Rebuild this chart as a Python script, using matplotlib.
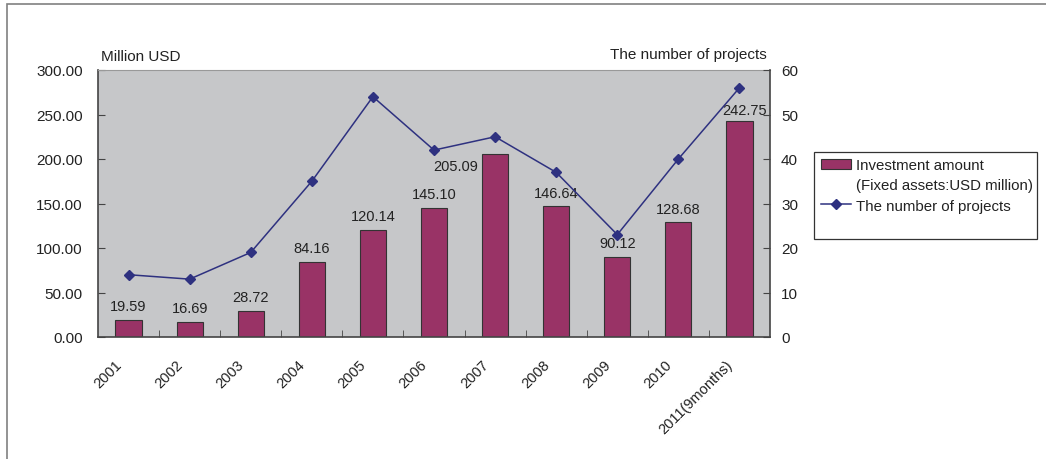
import matplotlib.pyplot as plt
import matplotlib.patches as mpatches
import matplotlib.transforms as mtransforms
import numpy as np

plt.rcParams['font.family'] = ['Liberation Sans', 'DejaVu Sans']

years = ['2001', '2002', '2003', '2004', '2005', '2006', '2007', '2008', '2009', '2010', '2011(9months)']
investment = [19.59, 16.69, 28.72, 84.16, 120.14, 145.10, 205.09, 146.64, 90.12, 128.68, 242.75]
projects = [14, 13, 19, 35, 54, 42, 45, 37, 23, 40, 56]

bar_color = '#993366'
line_color = '#2e3180'
txt = '#222222'

fig = plt.figure(figsize=(10.46, 4.60), dpi=100)
# outer frame (left and top edges visible)
fig.patches.append(mpatches.Rectangle((7 / 1046, -0.1), 1.2, 1.1 - 5 / 460,
                                      transform=fig.transFigure, fill=False,
                                      edgecolor='#808080', lw=1.2))

ax = fig.add_axes([98 / 1046, 1 - 338 / 460, (770 - 98) / 1046, (338 - 71) / 460])
ax.set_facecolor('#c6c7c9')
x = np.arange(len(years))
bars = ax.bar(x, investment, width=0.43, color=bar_color, edgecolor='#333333', lw=0.8, zorder=2)

# value labels, a couple nudged like in the original
for i, (xi, v) in enumerate(zip(x, investment)):
    if i == 6:
        ax.annotate(f'{v:.2f}', (xi - 0.215, v), xytext=(-3, -8), textcoords='offset points',
                    ha='right', va='center', fontsize=10.5, color=txt, zorder=4)
    elif i == 10:
        ax.annotate(f'{v:.2f}', (xi, v), xytext=(4, 3), textcoords='offset points',
                    ha='center', va='bottom', fontsize=10.5, color=txt, zorder=4)
    else:
        ax.annotate(f'{v:.2f}', (xi, v), xytext=(0, 5), textcoords='offset points',
                    ha='center', va='bottom', fontsize=10.5, color=txt, zorder=4)

ax.set_xlim(-0.5, len(years) - 0.5)
ax.set_ylim(0, 300)
ax.set_yticks(np.arange(0, 301, 50))
ax.set_yticklabels([f'{v:.2f}' for v in np.arange(0, 301, 50)], fontsize=11, color=txt)
ax.tick_params(axis='y', direction='in', length=5, pad=11, color='#444444')
ax.set_xticks(x)
ax.set_xticklabels(years, rotation=45, ha='right', va='center', rotation_mode='anchor',
                   fontsize=10.5, color=txt)
ax.tick_params(axis='x', which='major', length=0, pad=18)
shift = mtransforms.ScaledTranslation(-9 / 100, 0, fig.dpi_scale_trans)
for lab in ax.get_xticklabels():
    lab.set_transform(lab.get_transform() + shift)
ax.set_xticks(np.arange(0.5, len(years) - 0.5, 1), minor=True)
ax.tick_params(axis='x', which='minor', direction='in', length=5, color='#444444')
for s in ['left', 'bottom']:
    ax.spines[s].set_color('#444444')
    ax.spines[s].set_linewidth(1.2)
ax.spines['top'].set_color('#999999')
ax.spines['right'].set_visible(False)

ax2 = ax.twinx()
line, = ax2.plot(x, projects, color=line_color, lw=1.1, marker='D', markersize=5, zorder=3)
ax2.set_ylim(0, 60)
ax2.set_yticks(np.arange(0, 61, 10))
ax2.tick_params(axis='y', direction='in', length=5, pad=8, labelsize=11,
                labelcolor=txt, color='#444444')
ax2.spines['right'].set_color('#444444')
ax2.spines['right'].set_linewidth(1.2)
for s in ['left', 'bottom', 'top']:
    ax2.spines[s].set_visible(False)

fig.text(101 / 1046, 1 - 57 / 460, 'Million USD', fontsize=11, color=txt, va='center', ha='left')
fig.text(767 / 1046, 1 - 55 / 460, 'The number of projects', fontsize=11, color=txt,
         va='center', ha='right')

# legend: bar, continuation line of its label, line
blank = mpatches.Patch(facecolor='none', edgecolor='none')
leg = fig.legend([bars, blank, line],
                 ['Investment amount', '(Fixed assets:USD million)', 'The number of projects'],
                 loc='upper left', bbox_to_anchor=(821 / 1046, 1 - 159 / 460),
                 fontsize=10.8, frameon=False, handlelength=2.0, handletextpad=0.3,
                 borderpad=0, labelspacing=0.42, borderaxespad=0)
for t in leg.get_texts():
    t.set_color(txt)
fig.patches.append(mpatches.Rectangle((814 / 1046, 1 - 240 / 460), 223 / 1046, 87 / 460,
                                      transform=fig.transFigure, fill=False,
                                      edgecolor='#333333', lw=0.9))

fig.savefig('out.png', dpi=100)
